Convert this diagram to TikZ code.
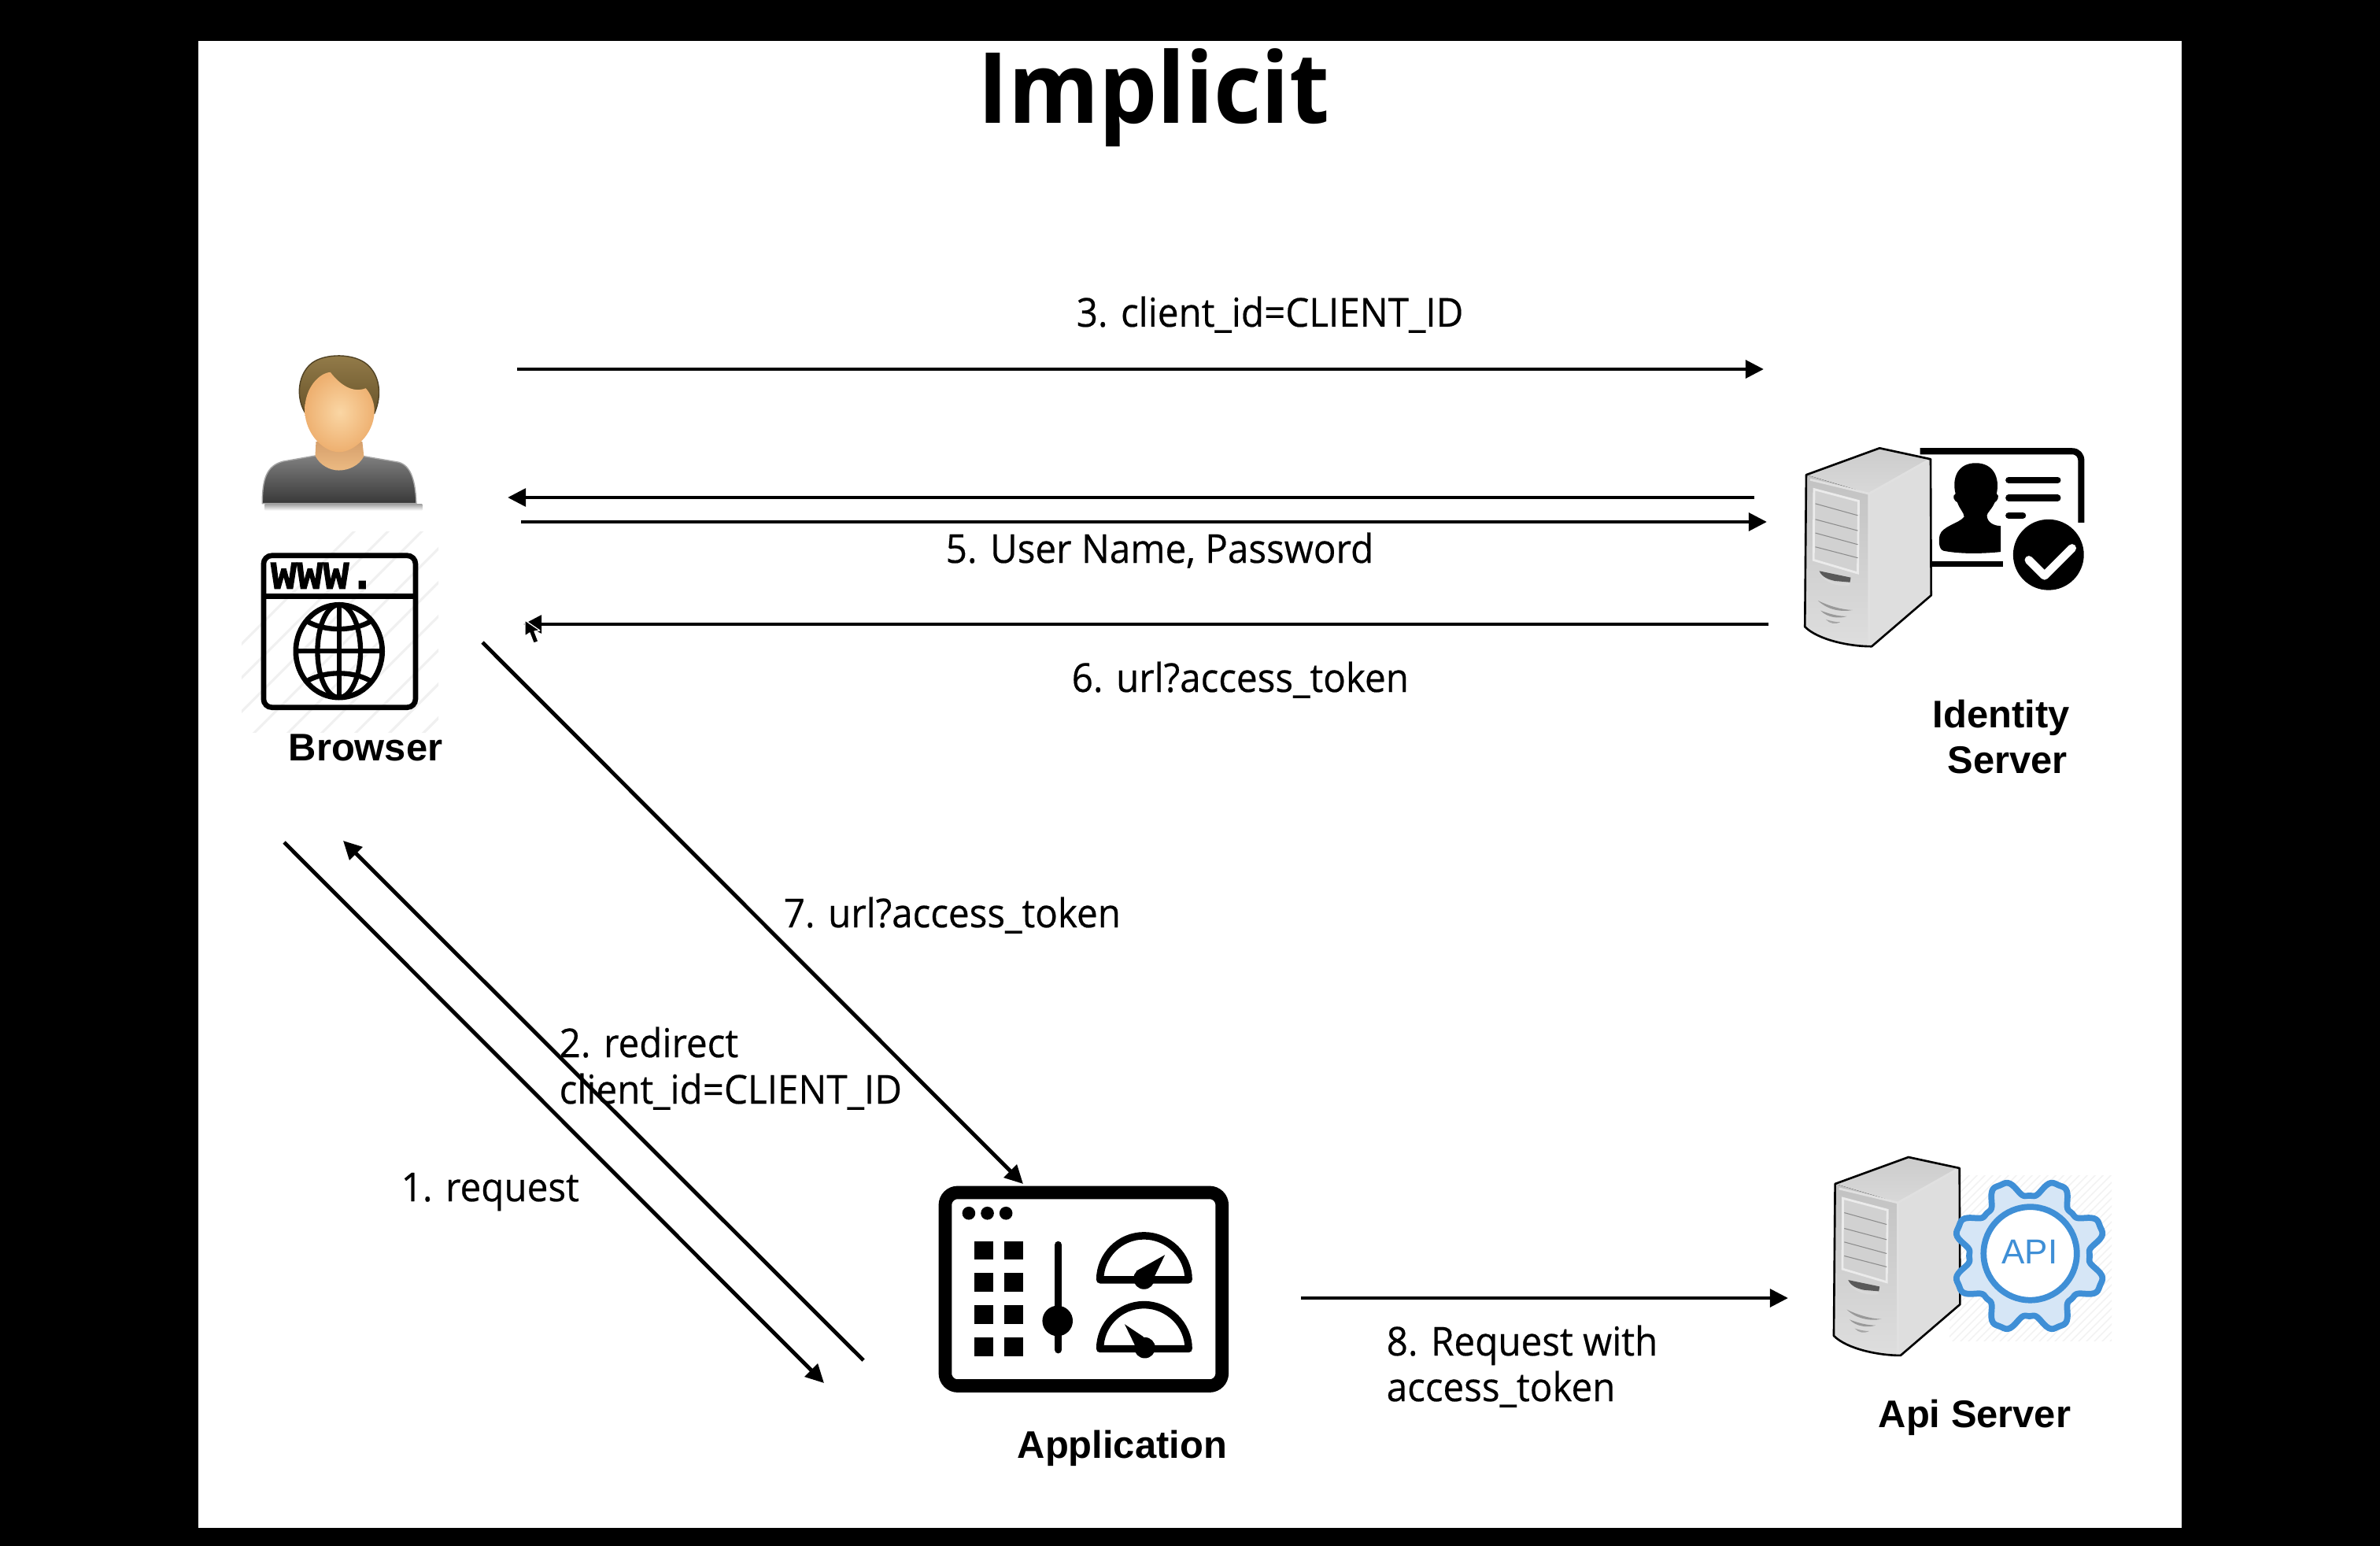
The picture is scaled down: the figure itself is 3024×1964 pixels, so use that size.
\documentclass[tikz,border=0pt]{standalone}
\usepackage{fontspec}
\setmainfont{Open Sans}
\newfontfamily\flowfont{Open Sans}[FakeStretch=0.94,FakeBold=0.4]
\newfontfamily\iconfont{Liberation Sans}
\newfontfamily\monofont{Liberation Mono}[BoldFeatures={FakeBold=2.5}]
\usetikzlibrary{arrows.meta}
\definecolor{apiblue}{HTML}{3F8FD6}
\definecolor{apifill}{HTML}{D6E6F6}
\tikzset{
  px/.style={x=0.01cm,y=-0.01cm},
  zoomed/.style={x=0.00333333cm,y=-0.00333333cm},
  zoomedtall/.style={x=0.00333333cm,y=-0.00357143cm},
  flow/.style={line width=1.4pt,-{Triangle[length=6.6pt,width=6.4pt]}},
  flowlabel/.style={anchor=base west,inner sep=0pt,font=\flowfont\fontsize{14.4}{17}\selectfont},
  iconlabel/.style={anchor=base west,inner sep=0pt,font=\iconfont\bfseries\fontsize{13.9}{16}\selectfont},
  ink/.style={line width=#1,draw=black,line cap=round,line join=round},
  shadeface/.style={draw=black,line width=0.75pt,line join=round},
}
\newcommand{\serverbox}{%
  \fill[white] (135,190) -- (415,88) -- (610,130) -- (612,650) -- (385,845) .. controls (300,845) and (180,820) .. (130,770) -- cycle;
  \fill[top color=black!20,bottom color=black!15] (135,190) -- (415,88) -- (610,130) -- (375,262) -- cycle;
  \fill[top color=black!24,bottom color=black!13] (135,190) -- (375,262) -- (375,845) .. controls (300,845) and (180,820) .. (130,770) -- cycle;
  \fill[black!13] (375,262) -- (610,130) -- (612,650) -- (385,845) -- (375,845) -- cycle;
  \draw[white!88!black,line width=0.8pt] (150,208) -- (375,262) -- (600,135) (375,262) -- (375,840);
  \draw[black!8,line width=0.8pt,fill=black!18] (165,245) -- (335,290) -- (332,565) -- (163,515) -- cycle;
  \draw[black!45,line width=0.3pt] (170,300) -- (332,345) (170,360) -- (332,403) (170,412) -- (332,456) (170,465) -- (332,507);
  \fill[white!85!black] (190,575) .. controls (225,600) and (270,610) .. (300,600) -- (300,612) .. controls (260,615) and (220,610) .. (190,575) -- cycle;
  \fill[black!65] (185,557) -- (305,582) -- (302,600) -- (245,595) .. controls (220,590) and (195,580) .. (185,557) -- cycle;
  \fill[black!40] (180,670) .. controls (220,690) and (270,705) .. (312,706) .. controls (270,715) and (215,705) .. (180,670) -- cycle;
  \fill[black!40] (190,708) .. controls (225,722) and (260,730) .. (290,730) .. controls (260,740) and (215,735) .. (190,708) -- cycle;
  \fill[black!35] (210,742) .. controls (230,748) and (245,752) .. (265,752) .. controls (245,762) and (225,758) .. (210,742) -- cycle;
  \draw[shadeface] (135,190) -- (415,88) -- (610,130) -- (612,650) -- (385,845) .. controls (300,845) and (180,820) .. (130,770) -- cycle;
}
\begin{document}
\begin{tikzpicture}[px]
\useasboundingbox (0,0) rectangle (3024,1964);
\fill[black] (0,0) rectangle (3024,1964);
\fill[white] (252,52) rectangle (2772,1941);

% ---------- person
\begin{scope}[shift={(280,420)},zoomedtall]
  \fill[top color=black!35,bottom color=white,draw=none] (170,618) rectangle (770,640);
  \path[top color=black!50,bottom color=black!78,draw=black!35,line width=0.4pt,line join=round]
    (160,615) .. controls (160,530) and (175,480) .. (240,465) -- (362,445)
    -- (548,447) -- (680,468) .. controls (730,480) and (745,540) .. (748,615) -- cycle;
  \path[top color={rgb,255:red,214;green,160;blue,108},bottom color={rgb,255:red,236;green,186;blue,130}]
    (365,395) -- (362,445) .. controls (380,480) and (420,497) .. (452,497)
    .. controls (490,497) and (530,480) .. (548,447) -- (542,395) -- cycle;
  \path[top color={rgb,255:red,148;green,124;blue,74},bottom color={rgb,255:red,104;green,84;blue,42},draw={rgb,255:red,80;green,66;blue,36},line width=0.4pt]
    (322,290) .. controls (285,230) and (300,150) .. (350,115) .. controls (400,80) and (510,80) .. (560,120)
    .. controls (610,160) and (618,230) .. (588,295) -- cycle;
  \path[inner color={rgb,255:red,250;green,214;blue,164},outer color={rgb,255:red,238;green,176;blue,112}]
    (322,285) .. controls (322,200) and (380,150) .. (420,148) .. controls (450,185) and (500,225) .. (555,205)
    .. controls (575,225) and (590,260) .. (588,290) .. controls (585,370) and (510,432) .. (453,432)
    .. controls (395,432) and (325,370) .. (322,285) -- cycle;
\end{scope}

% ---------- browser hatch
\begin{scope}
  \clip (307,675) rectangle (557,930);
  \foreach \k in {0,...,11} {
    \draw[black!6,line width=0.9pt] ({190+43*\k},935) -- ({190+43*\k+265},670);
  }
\end{scope}
% ---------- browser
\begin{scope}[shift={(280,420)},zoomedtall]
  \draw[line width=1.9pt,rounded corners=3pt] (165,800) rectangle (745,1340);
  \draw[line width=1.9pt] (165,945) -- (745,945);
  \node[anchor=base west,inner sep=0pt,font=\monofont\bfseries\fontsize{17.5}{18}\selectfont] (wwwtext) at (190,917) {\scalebox{.9}[1]{www.}};
  \begin{scope}
    \clip (453,1140) circle[radius=165];
    \draw[line width=1.8pt] (453,1140) ellipse[x radius=82,y radius=165];
    \draw[line width=1.8pt] (453,970) -- (453,1310) (285,1140) -- (620,1140);
    \draw[line width=1.8pt] (310,1020) .. controls (380,1075) and (525,1075) .. (595,1020);
    \draw[line width=1.8pt] (310,1260) .. controls (380,1205) and (525,1205) .. (595,1260);
  \end{scope}
  \draw[line width=1.9pt] (453,1140) circle[radius=165];
\end{scope}

% ---------- identity card
\begin{scope}[shift={(2250,540)},zoomed]
  \draw[ink=2.3pt,line cap=butt] (570,100) -- (1150,100) .. controls (1172,100) and (1185,115) .. (1185,137) -- (1185,372);
  \draw[ink=2.1pt,line cap=butt] (600,530) -- (885,530);
  \fill[black] (705,262) .. controls (690,200) and (715,145) .. (782,145) .. controls (850,145) and (875,200) .. (862,262)
    .. controls (875,270) and (865,290) .. (855,295) .. controls (845,320) and (825,335) .. (825,345)
    .. controls (825,370) and (850,385) .. (878,385) -- (878,484) .. controls (800,492) and (720,492) .. (660,480)
    .. controls (640,475) and (640,440) .. (645,420) .. controls (655,385) and (720,375) .. (738,350)
    .. controls (738,335) and (720,320) .. (712,295) .. controls (700,290) and (690,270) .. (705,262) -- cycle;
  \draw[ink=2.3pt] (908,210) -- (1095,210) (908,278) -- (1095,278) (908,345) -- (962,345);
  \fill[black] (1060,495) circle[radius=135];
  \draw[ink=3pt,white] (985,515) -- (1045,575) -- (1150,470);
\end{scope}
% ---------- identity server tower
\begin{scope}[shift={(2250,540)},zoomed]
  \serverbox
\end{scope}

% ---------- application
\begin{scope}[shift={(1170,1480)},zoomed]
  \draw[line width=4.74pt,rounded corners=4.5pt] (93,105) rectangle (1150,843);
  \foreach \dx in {183,254,325} { \fill (\dx,184) circle[radius=25]; }
  \foreach \sx in {203,318} {
    \foreach \sy in {290,412,535,658} {
      \fill (\sx,\sy) rectangle ++(73,72);
    }
  }
  \draw[ink=2.7pt] (525,305) -- (525,705);
  \fill (522,595) circle[radius=58];
  \draw[ink=2.7pt] (684,438) .. controls (684,345) and (760,270) .. (852,270) .. controls (944,270) and (1022,345) .. (1022,438) -- cycle;
  \fill (852,434) circle[radius=40];
  \fill (822,405) -- (932,343) -- (885,440) -- cycle;
  \begin{scope}[yshift=-0.8767cm]
    \draw[ink=2.7pt] (684,438) .. controls (684,345) and (760,270) .. (852,270) .. controls (944,270) and (1022,345) .. (1022,438) -- cycle;
    \fill (855,434) circle[radius=40];
    \fill (850,392) -- (778,344) -- (825,440) -- cycle;
  \end{scope}
\end{scope}

% ---------- API hatch
\begin{scope}
  \clip (2477,1493) rectangle (2683,1703);
  \foreach \k in {0,...,46} {
    \draw[black!5,line width=0.4pt] ({2260+10*\k},1705) -- ({2260+10*\k+215},1490);
  }
\end{scope}
% ---------- API server tower
\begin{scope}[shift={(2286.7,1440.7)},zoomed]
  \serverbox
\end{scope}
% ---------- API gear
\begin{scope}[shift={(2300,1450)},zoomed]
  \draw[draw=apiblue,fill=apifill,line width=2.2pt,line join=round]
    plot[domain=0:360,samples=241,smooth] ({837+(261+37*cos(8*(\x-22.5))-6*cos(24*(\x-22.5)))*cos(\x)},{437-(261+37*cos(8*(\x-22.5))-6*cos(24*(\x-22.5)))*sin(\x)}) -- cycle;
  \draw[draw=apiblue,fill=white,line width=2.2pt] (840,428) circle[radius=178];
  \node[inner sep=0pt,text=apiblue,font=\iconfont\fontsize{12.5}{14}\selectfont] (apitext) at (838,423) {API};
\end{scope}

% ---------- connector ends
\coordinate (b3) at (657,469);   \coordinate (i3) at (2241,469);
\coordinate (i4) at (2229,632);  \coordinate (b4) at (645,632);
\coordinate (b5) at (662,663);   \coordinate (i5) at (2245,663);
\coordinate (i6) at (2247,793);  \coordinate (b6) at (665,793);
\coordinate (b7) at (613,816);   \coordinate (a7) at (1300,1504);
\coordinate (a2) at (1097,1728); \coordinate (b2) at (436,1068);
\coordinate (b1) at (361,1070);  \coordinate (a1) at (1047,1757);
\coordinate (a8) at (1653,1649); \coordinate (s8) at (2272,1649);

\draw[flow] (b3) -- (i3);
\draw[flow] (i4) -- (b4);
\draw[flow] (b5) -- (i5);
\draw[flow] (i6) -- (b6);
\draw[flow] (b7) -- (a7);
\draw[flow] (a2) -- (b2);
\draw[flow] (b1) -- (a1);
\draw[flow] (a8) -- (s8);

% ---------- mouse pointer
\fill[black,draw=white,line width=0.35pt,line join=round] (667,788) -- (667,808) -- (673,804) -- (678,817) -- (684,815) -- (679,802) -- (686,801) -- cycle;

% ---------- texts
\node[inner sep=0pt,anchor=base,font=\bfseries\fontsize{35.5}{40}\selectfont] (title) at (1466,157) {\scalebox{.94}[1]{Implicit}};
\node[flowlabel] (l3) at (1367,415) {3. client\_id=CLIENT\_ID};
\node[flowlabel] (l5) at (1201,715) {5. User Name, Password};
\node[flowlabel] (l6) at (1361,879) {6. url?access\_token};
\node[flowlabel] (l7) at (995,1178) {7. url?access\_token};
\node[flowlabel] (l2a) at (710,1343) {2. redirect};
\node[flowlabel] (l2b) at (710,1402) {client\_id=CLIENT\_ID};
\node[flowlabel] (l1) at (509,1526) {1. request};
\node[flowlabel] (l8a) at (1761,1722) {8. Request with};
\node[flowlabel] (l8b) at (1761,1780) {access\_token};
\node[iconlabel] (nb) at (366,966) {Browser};
\node[iconlabel] (ni1) at (2455,924) {Identity};
\node[iconlabel] (ni2) at (2474,982) {Server};
\node[iconlabel] (na) at (1292,1852) {Application};
\node[iconlabel] (ns) at (2386,1813) {Api Server};
\end{tikzpicture}
\end{document}
